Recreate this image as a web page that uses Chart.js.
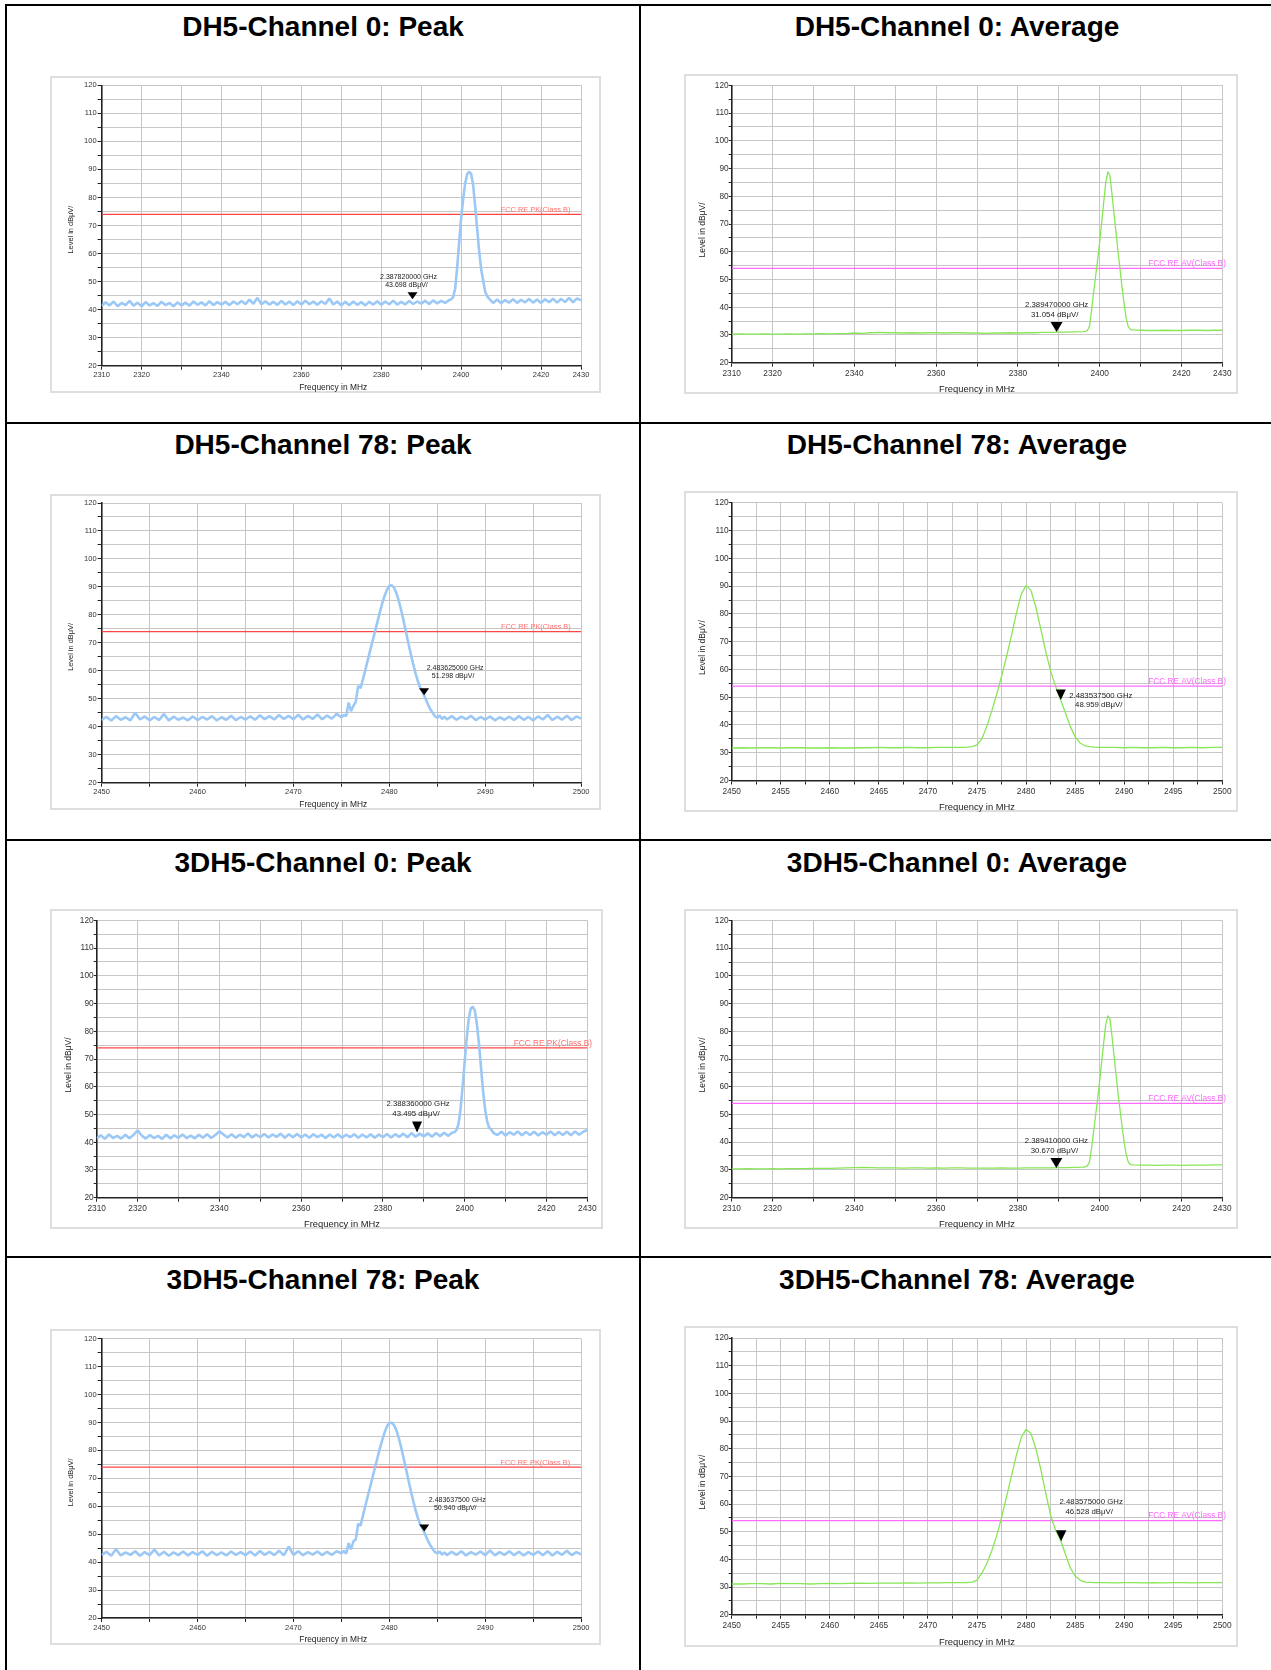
<!DOCTYPE html>
<html>
<head>
<meta charset="utf-8">
<script src="https://cdn.jsdelivr.net/npm/chart.js@4.4.1/dist/chart.umd.min.js"></script>
<style>
  body { margin: 0; background: #fff; width: 1271px; height: 1670px; position: relative; overflow: hidden;
         font-family: "Liberation Sans", Arial, sans-serif; }
  .rule { position: absolute; background: #000; }
  .title { position: absolute; font-weight: bold; font-size: 28px; line-height: 28px; text-align: center;
           white-space: nowrap; color: #000; }
  .box { position: absolute; box-sizing: border-box; border: 2px solid #dedede; }
  canvas { position: absolute; }
</style>
</head>
<body>
<script>
const FONT = '"Liberation Sans", Arial, sans-serif';

// chart titles
const titles = [
	"DH5-Channel 0: Peak", "DH5-Channel 0: Average",
	"DH5-Channel 78: Peak", "DH5-Channel 78: Average",
	"3DH5-Channel 0: Peak", "3DH5-Channel 0: Average",
	"3DH5-Channel 78: Peak", "3DH5-Channel 78: Average",
];

// axis ranges and tick labels
const ch0Range = [2310, 2430];
const ch78Range = [2450, 2500];
const ch0TickLabels = [2310, 2320, 2340, 2360, 2380, 2400, 2420, 2430];
const ch78PkTickLabels = [2450, 2460, 2470, 2480, 2490, 2500];
const ch78AvTickLabels = [2450, 2455, 2460, 2465, 2470, 2475, 2480, 2485, 2490, 2495, 2500];
const levelTickLabels = [20, 30, 40, 50, 60, 70, 80, 90, 100, 110, 120];

// limit lines (dBuV)
const limitPk = 74;
const limitAv = 54;

// markers
const markerFreqs = [2387.82, 2389.47, 2483.625, 2483.5375, 2388.36, 2389.41, 2483.6375, 2483.575];
const markerLevels = [43.698, 31.054, 51.298, 48.959, 43.495, 30.67, 50.94, 46.528];

// ---- traces ----
// DH5 ch0 peak: 2310-2397 (1 MHz), 2397.5-2407 (0.5), 2408-2430 (1)
const dh5Ch0PkLow = [
	41.3, 42.6, 41.5, 42.9, 41.2, 42.4, 41.6, 43.1, 41.4, 42.5,
	41.2, 42.7, 41.5, 42.3, 41.3, 42.8, 41.6, 42.4, 41.2, 42.6,
	41.5, 42.5, 41.4, 42.9, 41.7, 42.6, 41.5, 43.0, 41.6, 42.7,
	41.8, 42.8, 41.6, 42.9, 41.9, 43.1, 42.0, 43.6, 42.1, 44.2,
	41.9, 43.0, 41.8, 42.8, 41.7, 43.1, 41.8, 42.9, 41.6, 43.0,
	41.8, 43.2, 41.9, 42.9, 41.7, 43.0, 42.0, 44.0, 41.8, 42.9,
	41.5, 42.8, 41.6, 42.9, 41.7, 42.7, 41.5, 42.8, 41.8, 43.0,
	41.7, 42.9, 41.9, 43.2, 41.8, 42.8, 41.9, 43.1, 42.0, 42.9,
	42.1, 43.2, 42.0, 43.3, 42.2, 43.1, 42.4, 43.4,
];
const dh5Ch0PkPeak = [43.6, 44.5, 47.5, 55.0, 64.0, 72.5, 79.5, 85.0, 88.3, 89.2,
	88.4, 84.5, 77.0, 69.0, 61.0, 54.5, 50.5, 46.5, 44.8, 43.9];
const dh5Ch0PkHigh = [42.4, 43.6, 42.3, 43.4, 42.5, 43.7, 42.4, 43.5, 42.6, 43.8, 42.5, 43.6,
	42.4, 43.7, 42.6, 43.9, 42.5, 43.8, 42.7, 44.2, 42.6, 44.0, 43.3];

// DH5 ch0 average: 2310-2396 (2 MHz), 2396.5-2408 (0.5), 2410-2430 (2)
const dh5Ch0AvLow = [
	30.3, 30.4, 30.3, 30.3, 30.4, 30.3, 30.3, 30.4, 30.3, 30.4,
	30.4, 30.5, 30.4, 30.5, 30.5, 30.7, 30.6, 30.8, 30.9, 30.8,
	30.8, 30.7, 30.8, 30.7, 30.8, 30.8, 30.7, 30.8, 30.8, 30.7,
	30.7, 30.6, 30.7, 30.7, 30.8, 30.7, 30.8, 30.8, 30.9, 30.9,
	31.0, 31.0, 31.1, 31.2,
];
const dh5Ch0AvPeak = [31.3, 31.6, 33.0, 38.5, 45.0, 51.0, 57.0, 63.5, 70.5, 78.0, 85.0, 88.8,
	87.5, 81.0, 74.0, 67.0, 60.0, 53.5, 47.0, 41.0, 36.0, 33.0, 32.0, 31.8];
const dh5Ch0AvHigh = [31.7, 31.6, 31.6, 31.7, 31.6, 31.6, 31.7, 31.7, 31.6, 31.7, 31.7];

// DH5 ch78 peak: 2450-2474.5 (0.5), 2475-2485.75 (0.25), 2486-2500 (0.5)
const dh5Ch78PkLow = [
	42.4, 43.6, 42.2, 43.8, 42.5, 43.4, 42.3, 45.0, 42.6, 43.7,
	42.3, 43.5, 42.4, 44.6, 42.2, 43.6, 42.5, 43.3, 42.3, 43.7,
	42.4, 43.5, 42.6, 43.8, 42.3, 43.4, 42.5, 43.9, 42.4, 43.5,
	42.6, 43.7, 42.5, 44.1, 42.7, 43.8, 42.6, 44.2, 42.8, 43.9,
	42.7, 44.3, 42.6, 43.9, 42.8, 44.4, 42.7, 44.0, 42.9, 44.6,
];
const dh5Ch78PkPeak = [
	43.4, 44.2, 43.8, 48.6, 45.6, 47.4, 49.0, 54.6, 53.8, 57.0,
	60.4, 63.8, 67.2, 70.6, 74.0, 77.4, 80.8, 84.0, 86.8, 89.0,
	90.4, 90.6, 89.6, 87.6, 84.8, 81.4, 77.6, 73.6, 69.6, 65.8,
	62.2, 58.8, 56.0, 53.6, 52.2, 50.2, 48.2, 46.4, 45.0, 43.8,
	43.2, 44.0, 42.8, 43.6,
];
const dh5Ch78PkHigh = [
	42.6, 43.8, 42.5, 43.6, 42.7, 43.9, 42.4, 43.5, 42.6, 43.7,
	42.3, 43.4, 42.5, 43.6, 42.4, 43.8, 42.5, 43.5, 42.3, 43.7,
	42.6, 44.2, 42.4, 43.6, 42.5, 43.9, 42.4, 43.7, 42.9,
];

// DH5 ch78 average: 2450-2473 (1), 2473.5-2487.5 (0.5), 2488-2500 (1)
const dh5Ch78AvLow = [31.7, 31.8, 31.7, 31.8, 31.8, 31.7, 31.8, 31.8, 31.7, 31.7, 31.8, 31.7,
	31.7, 31.8, 31.8, 31.9, 31.8, 31.8, 31.9, 31.8, 31.8, 31.9, 31.9, 31.9];
const dh5Ch78AvPeak = [31.9, 32.0, 32.2, 32.8, 35.0, 39.5, 45.0, 51.0, 57.5, 64.5, 72.0, 80.0,
	87.0, 90.3, 88.5, 82.5, 74.5, 66.5, 59.5, 54.0, 49.3, 44.5, 39.5, 35.8, 33.5, 32.5, 32.2, 32.0, 31.9];
const dh5Ch78AvHigh = [31.9, 31.9, 31.8, 31.9, 31.8, 31.8, 31.9, 31.8, 31.8, 31.9, 31.8, 31.9, 31.9];

// 3DH5 ch0 peak: same sampling as DH5 ch0 peak
const dh3Ch0PkLow = [
	41.4, 42.5, 41.2, 42.8, 41.5, 42.3, 41.3, 42.7, 41.4, 42.6,
	44.3, 42.4, 41.3, 42.6, 41.5, 42.3, 41.2, 42.7, 41.4, 42.5,
	41.6, 42.8, 41.5, 42.4, 41.4, 42.7, 41.6, 42.9, 41.5, 42.6,
	43.9, 42.8, 41.7, 42.9, 41.6, 42.7, 41.8, 43.2, 41.7, 42.8,
	41.8, 43.0, 41.7, 42.8, 41.9, 43.1, 41.6, 42.9, 41.8, 43.0,
	41.7, 42.8, 41.6, 42.9, 41.8, 42.7, 41.5, 42.8, 41.7, 42.9,
	41.6, 42.7, 41.8, 42.9, 41.6, 42.8, 41.7, 42.9, 41.6, 42.8,
	41.8, 43.0, 41.7, 42.9, 41.9, 43.1, 41.8, 43.3, 42.0, 43.1,
	42.1, 43.2, 42.0, 43.3, 42.2, 43.4, 42.3, 43.5,
];
const dh3Ch0PkPeak = [43.6, 44.4, 46.5, 52.0, 60.0, 69.0, 77.5, 84.5, 88.2, 88.9,
	87.4, 82.5, 75.5, 67.0, 58.5, 52.0, 47.5, 45.2, 44.6, 43.4];
const dh3Ch0PkHigh = [42.6, 43.8, 42.4, 43.6, 42.7, 43.9, 42.5, 43.7, 42.6, 43.8, 42.4, 43.6,
	42.7, 43.9, 42.5, 43.7, 42.6, 43.8, 42.5, 43.9, 42.7, 43.8, 44.4];

// 3DH5 ch0 average: same sampling as DH5 ch0 average
const dh3Ch0AvLow = [
	30.3, 30.3, 30.4, 30.3, 30.3, 30.4, 30.3, 30.4, 30.4, 30.4,
	30.5, 30.5, 30.5, 30.6, 30.7, 30.8, 30.9, 30.8, 30.7, 30.7,
	30.7, 30.6, 30.7, 30.7, 30.6, 30.7, 30.6, 30.7, 30.7, 30.6,
	30.6, 30.6, 30.6, 30.7, 30.6, 30.6, 30.7, 30.7, 30.7, 30.7,
	30.8, 30.8, 30.9, 31.0,
];
const dh3Ch0AvPeak = [31.1, 31.4, 32.8, 37.5, 43.5, 49.5, 55.5, 62.0, 69.0, 76.0, 82.5, 85.6,
	84.5, 78.5, 71.5, 64.5, 57.5, 51.5, 45.5, 40.0, 35.5, 32.8, 32.0, 31.8];
const dh3Ch0AvHigh = [31.7, 31.7, 31.6, 31.7, 31.7, 31.6, 31.7, 31.7, 31.7, 31.8, 31.8];

// 3DH5 ch78 peak: same sampling as DH5 ch78 peak
const dh3Ch78PkLow = [
	42.5, 43.7, 42.3, 44.6, 42.4, 43.5, 42.6, 43.9, 42.3, 43.6,
	42.5, 44.5, 42.4, 43.7, 42.3, 43.5, 42.5, 43.8, 42.4, 43.6,
	42.6, 43.9, 42.3, 43.7, 42.5, 43.5, 42.4, 43.8, 42.6, 43.6,
	42.5, 43.8, 42.4, 44.0, 42.6, 43.7, 42.5, 44.1, 42.4, 45.6,
	42.6, 43.9, 42.5, 43.6, 42.7, 43.8, 42.5, 43.7, 42.6, 43.9,
];
const dh3Ch78PkPeak = [
	43.2, 44.0, 43.0, 46.8, 44.6, 47.4, 48.2, 53.8, 53.0, 56.8,
	60.2, 63.6, 67.0, 70.4, 73.8, 77.2, 80.6, 83.6, 86.4, 88.6,
	89.8, 89.9, 89.0, 87.0, 84.2, 80.8, 77.0, 73.2, 69.2, 65.4,
	61.8, 58.4, 55.6, 53.2, 51.8, 49.8, 47.8, 46.2, 44.8, 43.6,
	43.1, 43.8, 42.7, 43.5,
];
const dh3Ch78PkHigh = [
	42.5, 43.7, 42.6, 43.9, 42.4, 43.6, 42.7, 43.8, 42.5, 44.2,
	42.4, 43.6, 42.6, 43.9, 42.5, 43.7, 42.4, 43.6, 42.6, 43.8,
	42.5, 43.9, 42.4, 43.7, 42.6, 44.1, 42.5, 43.6, 42.8,
];

// 3DH5 ch78 average: 2450-2473 (1), 2474-2486 (0.5), 2487-2500 (1)
const dh3Ch78AvLow = [31.1, 31.1, 31.2, 31.2, 31.1, 31.3, 31.2, 31.2, 31.1, 31.2, 31.3, 31.2,
	31.3, 31.4, 31.3, 31.4, 31.4, 31.4, 31.5, 31.4, 31.5, 31.5, 31.6, 31.6];
const dh3Ch78AvPeak = [31.6, 31.8, 32.5, 35.0, 38.5, 43.0, 48.5, 55.0, 62.5, 70.0, 77.5, 84.0,
	87.0, 85.5, 80.0, 72.5, 64.0, 56.0, 50.5, 47.0, 42.0, 37.0, 34.0, 32.5, 31.8];
const dh3Ch78AvHigh = [31.6, 31.6, 31.5, 31.6, 31.6, 31.5, 31.6, 31.5, 31.6, 31.6, 31.5, 31.6, 31.6, 31.6];

// sample i of a segment sits at start + i * step MHz
function seg(start, step, levels) {
	return levels.map((v, i) => ({ x: start + i * step, y: v }));
}

const panelData = [
	{ trace: [seg(2310, 1, dh5Ch0PkLow), seg(2397.5, 0.5, dh5Ch0PkPeak), seg(2408, 1, dh5Ch0PkHigh)],
		range: ch0Range, ticks: ch0TickLabels, step: 10, kind: "pk" },
	{ trace: [seg(2310, 2, dh5Ch0AvLow), seg(2396.5, 0.5, dh5Ch0AvPeak), seg(2410, 2, dh5Ch0AvHigh)],
		range: ch0Range, ticks: ch0TickLabels, step: 10, kind: "av" },
	{ trace: [seg(2450, 0.5, dh5Ch78PkLow), seg(2475, 0.25, dh5Ch78PkPeak), seg(2486, 0.5, dh5Ch78PkHigh)],
		range: ch78Range, ticks: ch78PkTickLabels, step: 5, kind: "pk" },
	{ trace: [seg(2450, 1, dh5Ch78AvLow), seg(2473.5, 0.5, dh5Ch78AvPeak), seg(2488, 1, dh5Ch78AvHigh)],
		range: ch78Range, ticks: ch78AvTickLabels, step: 2.5, kind: "av" },
	{ trace: [seg(2310, 1, dh3Ch0PkLow), seg(2397.5, 0.5, dh3Ch0PkPeak), seg(2408, 1, dh3Ch0PkHigh)],
		range: ch0Range, ticks: ch0TickLabels, step: 10, kind: "pk" },
	{ trace: [seg(2310, 2, dh3Ch0AvLow), seg(2396.5, 0.5, dh3Ch0AvPeak), seg(2410, 2, dh3Ch0AvHigh)],
		range: ch0Range, ticks: ch0TickLabels, step: 10, kind: "av" },
	{ trace: [seg(2450, 0.5, dh3Ch78PkLow), seg(2475, 0.25, dh3Ch78PkPeak), seg(2486, 0.5, dh3Ch78PkHigh)],
		range: ch78Range, ticks: ch78PkTickLabels, step: 5, kind: "pk" },
	{ trace: [seg(2450, 1, dh3Ch78AvLow), seg(2474, 0.5, dh3Ch78AvPeak), seg(2487, 1, dh3Ch78AvHigh)],
		range: ch78Range, ticks: ch78AvTickLabels, step: 2.5, kind: "av" },
];

// ---- layout (px) ----
// box: left, top, width, height ; plot: left, top, right, bottom insets inside the box
// lbl: marker text dx, dy, line gap, triangle width, triangle height
const panelLayout = [
	{ box: [50, 76, 551, 317], plot: [51.6, 9.3, 20, 27.3], size: "sm", lbl: [-4, -22, 8, 10, 7], limDx: -10.5, titleTop: 13, col: 0 },
	{ box: [684, 74, 554, 320], plot: [47.7, 11.3, 15.7, 31.3], size: "lg", lbl: [0, -27, 10, 12, 10], limDx: 3.6, titleTop: 13, col: 1 },
	{ box: [50, 494, 551, 316], plot: [51.6, 9, 19.8, 27.3], size: "sm", lbl: [31, -27, 7.5, 10, 7], limDx: -10.5, titleTop: 431, col: 0 },
	{ box: [684, 491, 554, 321], plot: [47.7, 11.9, 15.7, 31.5], size: "lg", lbl: [40, -4.7, 9.7, 10, 10.7], limDx: 3.6, titleTop: 431, col: 1 },
	{ box: [50, 909, 553, 320], plot: [46.7, 11.3, 15.7, 31.3], size: "lg", lbl: [1, -28.7, 10, 10, 11], limDx: 4.7, titleTop: 849, col: 0 },
	{ box: [684, 909, 554, 320], plot: [47.7, 11.5, 15.7, 31.5], size: "lg", lbl: [0, -27, 9.6, 12, 10], limDx: 3.6, titleTop: 849, col: 1 },
	{ box: [50, 1329, 551, 316], plot: [51.6, 9.7, 19.8, 27], size: "sm", lbl: [33, -31.7, 8.4, 10, 7], limDx: -11, titleTop: 1266, col: 0 },
	{ box: [684, 1326, 554, 321], plot: [47.7, 12, 15.7, 32.3], size: "lg", lbl: [30, -39, 10, 10.5, 11], limDx: 3.6, titleTop: 1266, col: 1 },
];

const styles = {
	sm: { tick: 7.5, yTitle: 7.4, xTitle: 8.4, mark: 7, lim: 7.4, yTitlePad: 17, xTitlePad: 1.1,
		yTickLen: 4, yTickPad: 1, xTickPad: 1, ySp: 4, xSp: 7 },
	lg: { tick: 8.3, yTitle: 8.5, xTitle: 9.4, mark: 7.8, lim: 8.3, yTitlePad: 14.4, xTitlePad: 0.3,
		yTickLen: 3, yTickPad: 0, xTickPad: 2, ySp: 5, xSp: 0 },
};

const kinds = {
	pk: { color: "#9cc8f6", width: 2.6, join: "bevel", limit: limitPk, limColor: "#ff4646", limTextColor: "#ff6f6f", limText: "FCC RE PK(Class B)" },
	av: { color: "#88e656", width: 1.3, join: "round", limit: limitAv, limColor: "#ff6cff", limTextColor: "#ff66ff", limText: "FCC RE AV(Class B)" },
};

// limit label + marker triangle/text
const markPlugin = {
	id: "marks",
	afterDatasetsDraw(chart, args, o) {
		const { ctx, chartArea } = chart;
		const xs = chart.scales.x;
		const ys = chart.scales.y;
		ctx.save();
		const ly = ys.getPixelForValue(o.limit);
		ctx.font = o.limFont + "px " + FONT;
		ctx.fillStyle = o.limColor;
		ctx.textAlign = "right";
		ctx.textBaseline = "middle";
		ctx.fillText(o.limText, chartArea.right + o.limDx, ly - 4.5);

		const mx = xs.getPixelForValue(o.freq);
		const my = ys.getPixelForValue(o.level);
		ctx.fillStyle = "#000";
		ctx.beginPath();
		ctx.moveTo(mx, my);
		ctx.lineTo(mx - o.tw / 2, my - o.th);
		ctx.lineTo(mx + o.tw / 2, my - o.th);
		ctx.closePath();
		ctx.fill();

		ctx.font = o.markFont + "px " + FONT;
		ctx.fillStyle = "#222";
		ctx.textAlign = "center";
		ctx.fillText(o.line1, mx + o.dx, my + o.dy);
		ctx.fillText(o.line2, mx + o.dx - 2, my + o.dy + o.gap);
		ctx.restore();
	},
};

function hasLabel(list, v) {
	return list.some((l) => Math.abs(l - v) < 1e-6);
}

function addRule(x, y, w, h) {
	const d = document.createElement("div");
	d.className = "rule";
	Object.assign(d.style, { left: x + "px", top: y + "px", width: w + "px", height: h + "px" });
	document.body.appendChild(d);
}

function makePanel(i) {
	const L = panelLayout[i];
	const D = panelData[i];
	const S = styles[L.size];
	const K = kinds[D.kind];
	const [bx, by, bw, bh] = L.box;
	const [pl, pt, pr, pb] = L.plot;

	const t = document.createElement("div");
	t.className = "title";
	t.textContent = titles[i];
	Object.assign(t.style, { left: (L.col ? 641 : 6) + "px", width: (L.col ? 632 : 634) + "px", top: L.titleTop + "px" });
	document.body.appendChild(t);

	const frame = document.createElement("div");
	frame.className = "box";
	Object.assign(frame.style, { left: bx + "px", top: by + "px", width: bw + "px", height: bh + "px" });
	document.body.appendChild(frame);

	const cv = document.createElement("canvas");
	cv.width = bw;
	cv.height = bh;
	cv.style.left = bx + "px";
	cv.style.top = by + "px";
	document.body.appendChild(cv);

	const points = [].concat(...D.trace);
	const nb = "\u00a0";

	new Chart(cv, {
		type: "line",
		data: {
			datasets: [
				{ data: points, borderColor: K.color, borderWidth: K.width, pointRadius: 0,
					borderJoinStyle: K.join, tension: 0, order: 0 },
				{ data: [{ x: D.range[0], y: K.limit }, { x: D.range[1], y: K.limit }],
					borderColor: K.limColor, borderWidth: 1.3, pointRadius: 0, order: 1 },
			],
		},
		options: {
			responsive: false,
			animation: false,
			devicePixelRatio: 1,
			layout: { padding: { left: 0, top: pt, right: pr, bottom: 0 } },
			plugins: {
				legend: { display: false },
				tooltip: { enabled: false },
				marks: {
					limit: K.limit, limText: K.limText, limColor: K.limTextColor, limFont: S.lim, limDx: L.limDx,
					freq: markerFreqs[i], level: markerLevels[i],
					line1: (markerFreqs[i] / 1000).toFixed(9) + " GHz",
					line2: markerLevels[i].toFixed(3) + " dBμV/",
					markFont: S.mark, dx: L.lbl[0], dy: L.lbl[1], gap: L.lbl[2], tw: L.lbl[3], th: L.lbl[4],
				},
			},
			scales: {
				x: {
					type: "linear",
					min: D.range[0],
					max: D.range[1],
					afterFit: (s) => { s.height = pb; },
					ticks: {
						stepSize: D.step, autoSkip: false, maxRotation: 0, minRotation: 0,
						padding: S.xTickPad, color: "#333", font: { family: FONT, size: S.tick },
						callback: (v) => (hasLabel(D.ticks, v) ? String(v) : ""),
					},
					grid: { color: "#c6c6c6", lineWidth: 1, tickColor: "#222", tickLength: 4 },
					border: { display: true, color: "#222", width: 1.6 },
					title: {
						display: true, text: "Frequency in MHz" + nb.repeat(S.xSp), color: "#222",
						font: { family: FONT, size: S.xTitle, lineHeight: 1 },
						padding: { top: 0, bottom: S.xTitlePad },
					},
				},
				y: {
					type: "linear",
					min: 20,
					max: 120,
					afterFit: (s) => { s.width = pl; },
					ticks: {
						stepSize: 5, autoSkip: false, padding: S.yTickPad, color: "#333",
						font: { family: FONT, size: S.tick },
						callback: (v) => (hasLabel(levelTickLabels, v) ? String(v) : ""),
					},
					grid: { color: "#c6c6c6", lineWidth: 1, tickColor: "#222", tickLength: S.yTickLen },
					border: { display: true, color: "#222", width: 1.6 },
					title: {
						display: true, text: "Level in dBμV/" + nb.repeat(S.ySp), color: "#222",
						font: { family: FONT, size: S.yTitle, lineHeight: 1 },
						padding: { top: S.yTitlePad, bottom: 0 },
					},
				},
			},
		},
		plugins: [markPlugin],
	});
}

// table rules
addRule(5, 4, 1266, 2);
addRule(5, 4, 2, 1666);
addRule(639, 4, 2, 1666);
addRule(5, 422, 1266, 2);
addRule(5, 839, 1266, 2);
addRule(5, 1256, 1266, 2);

for (let i = 0; i < 8; i++) makePanel(i);
</script>
</body>
</html>
